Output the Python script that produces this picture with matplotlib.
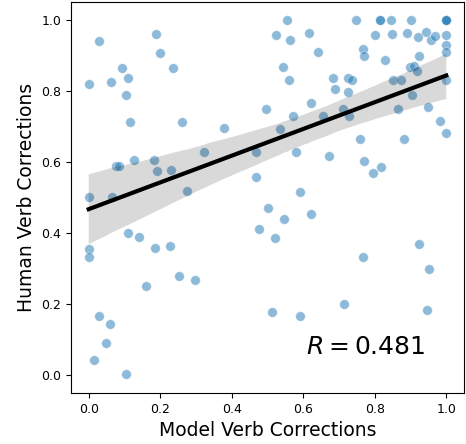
import numpy as np
import matplotlib
matplotlib.use("Agg")
import matplotlib.pyplot as plt
import seaborn as sns

# model vs human verb corrections
model_verb = [
    0.030, 0.189, 0.198, 0.094, 0.237, 0.000, 0.061, 0.110, 0.103, 0.115,
    0.261, 0.377, 0.497, 0.322, 0.468, 0.075, 0.085, 0.127, 0.183, 0.192,
    0.230, 0.468, 0.274, 0.000, 0.066, 0.502, 0.475, 0.109, 0.140, 0.000,
    0.000, 0.185, 0.227, 0.253, 0.298, 0.161, 0.030, 0.059, 0.047, 0.014,
    0.105, 0.545, 0.623, 0.520, 0.924, 0.768, 0.951, 0.713, 0.514, 0.591,
    0.947, 0.592, 0.554, 0.748, 0.815, 0.815, 0.846, 0.901, 1.000, 1.000,
    1.000, 0.524, 0.562, 0.616, 0.801, 0.848, 0.890, 0.921, 0.942, 0.956,
    0.968, 1.000, 1.000, 1.000, 0.641, 0.766, 0.771, 0.830, 0.924, 0.542,
    0.899, 0.910, 0.917, 0.559, 0.683, 0.725, 0.736, 0.852, 0.874, 1.000,
    0.690, 0.726, 0.903, 0.623, 0.948, 0.570, 0.655, 0.710, 0.729, 0.866,
    0.535, 0.982, 1.000, 0.579, 0.673, 0.759, 0.882, 0.770, 0.795, 0.817,
]
human_verb = [
    0.941, 0.960, 0.906, 0.864, 0.864, 0.821, 0.824, 0.837, 0.789, 0.712,
    0.712, 0.696, 0.748, 0.628, 0.628, 0.589, 0.589, 0.606, 0.606, 0.575,
    0.577, 0.559, 0.519, 0.501, 0.501, 0.470, 0.412, 0.399, 0.389, 0.354,
    0.333, 0.357, 0.364, 0.280, 0.267, 0.250, 0.168, 0.144, 0.092, 0.043,
    0.002, 0.440, 0.454, 0.385, 0.369, 0.333, 0.298, 0.200, 0.177, 0.168,
    0.184, 0.515, 1.000, 1.000, 1.000, 1.000, 1.000, 1.000, 1.000, 1.000,
    1.000, 0.957, 0.944, 0.962, 0.959, 0.961, 0.964, 0.953, 0.965, 0.944,
    0.954, 0.958, 0.930, 0.909, 0.910, 0.918, 0.898, 0.886, 0.898, 0.868,
    0.868, 0.871, 0.855, 0.832, 0.837, 0.838, 0.831, 0.832, 0.832, 0.832,
    0.805, 0.798, 0.790, 0.767, 0.756, 0.731, 0.729, 0.749, 0.729, 0.749,
    0.694, 0.717, 0.683, 0.628, 0.617, 0.666, 0.666, 0.604, 0.570, 0.586,
]

fig = plt.figure(figsize=(4.66, 4.44), dpi=100)
ax = fig.add_axes([0.152, 0.115, 0.844, 0.880])

sns.regplot(x=np.array(model_verb), y=np.array(human_verb), ax=ax,
            scatter_kws={"alpha": 0.5, "s": 48, "edgecolor": "white", "linewidths": 0.5},
            line_kws={"color": "black", "lw": 3}, seed=0)

ax.set_xlim(-0.05, 1.05)
ax.set_ylim(-0.05, 1.05)
ax.set_xlabel("Model Verb Corrections", fontsize=13.5)
ax.set_ylabel("Human Verb Corrections", fontsize=13.5)
ax.tick_params(labelsize=9)
ax.text(0.607, 0.08, r"$R = 0.481$", fontsize=18, va="center")

fig.savefig("out.png", dpi=100)
